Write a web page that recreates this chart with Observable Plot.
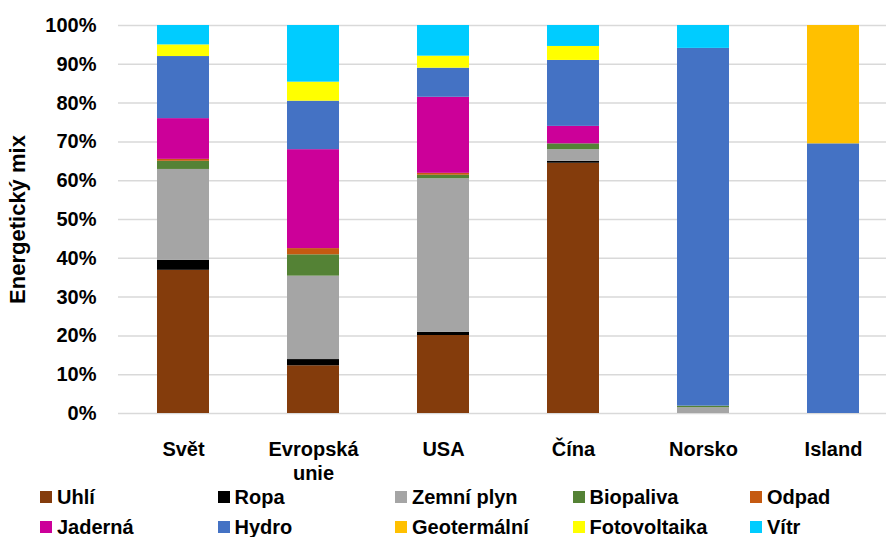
<!DOCTYPE html>
<html>
<head>
<meta charset="utf-8">
<script src="https://cdn.jsdelivr.net/npm/d3@7"></script>
<script src="https://cdn.jsdelivr.net/npm/@observablehq/plot@0.6"></script>
<style>
  body { margin: 0; background: #fff; font-family: "Liberation Sans", Arial, sans-serif; }
  #chart { position: relative; width: 886px; height: 537px; overflow: hidden; }
  #chart svg { display: block; }
  #legend { display: grid; grid-template-columns: repeat(5, 177.5px); padding-left: 40px; margin-top: -4px;
            font: bold 20px "Liberation Sans", Arial, sans-serif; color: #000; }
  .item { display: flex; align-items: center; height: 30px; white-space: nowrap; }
  .sw { width: 12px; height: 12px; margin-right: 5px; flex: none; }
</style>
</head>
<body>
<div id="chart"></div>
<script>
const categories = ["Svět", "Evropská unie", "USA", "Čína", "Norsko", "Island"];
const sources = ["Uhlí", "Ropa", "Zemní plyn", "Biopaliva", "Odpad", "Jaderná", "Hydro", "Geotermální", "Fotovoltaika", "Vítr"];
const colors = ["#843C0C", "#000000", "#A5A5A5", "#548235", "#C55A11", "#CC0099", "#4472C4", "#FFC000", "#FFFF00", "#00CCFF"];

const uhli        = [36.9, 12.3, 20.1, 64.5, 0,    0];
const ropa        = [2.6,  1.6,  0.8,  0.5,  0,    0];
const zemniPlyn   = [23.4, 21.5, 39.6, 3.0,  1.5,  0];
const biopaliva   = [2.1,  5.5,  0.9,  1.5,  0.4,  0];
const odpad       = [0.5,  1.6,  0.5,  0,    0,    0];
const jaderna     = [10.5, 25.5, 19.6, 4.5,  0,    0];
const hydro       = [16.0, 12.5, 7.5,  17.0, 92.2, 69.5];
const geotermalni = [0,    0,    0,    0,    0,    30.5];
const fotovoltaika= [3.0,  4.9,  3.1,  3.6,  0,    0];
const vitr        = [5.0,  14.6, 7.9,  5.4,  5.9,  0];
const yTicks = [0, 10, 20, 30, 40, 50, 60, 70, 80, 90, 100];

const series = [uhli, ropa, zemniPlyn, biopaliva, odpad, jaderna, hydro, geotermalni, fotovoltaika, vitr];
const data = [];
series.forEach((vals, i) => vals.forEach((v, j) => data.push({category: categories[j], source: sources[i], value: v})));

const font = '"Liberation Sans", Arial, sans-serif';
const plot = Plot.plot({
  width: 886,
  height: 486,
  marginTop: 25,
  marginBottom: 73,
  marginLeft: 118,
  marginRight: 0,
  style: {fontFamily: font, fontSize: "20px", fontWeight: "bold", color: "#000", background: "#fff", overflow: "hidden"},
  x: {domain: categories, range: [118, 898], paddingInner: 0.6, paddingOuter: 0.3},
  y: {domain: [0, 100]},
  color: {domain: sources, range: colors},
  marks: [
    Plot.ruleY(yTicks, {stroke: "#d9d9d9", strokeWidth: 1.5}),
    Plot.barY(data, Plot.stackY({x: "category", y: "value", z: "source", fill: "source", order: sources})),
    Plot.axisY(yTicks, {tickSize: 0, tickPadding: 22, tickFormat: d => d + "%", fontSize: 20, fontWeight: "bold", label: null}),
    Plot.axisY([0], {tickSize: 0, tickFormat: () => "", fontSize: 22, fontWeight: "bold",
      label: "Energetický mix", labelAnchor: "center", labelOffset: 109, labelArrow: "none"}),
    Plot.axisX({tickSize: 0, tickPadding: 25, fontSize: 20, fontWeight: "bold", lineHeight: 1.2,
      tickFormat: d => d.replace(" ", "\n"), label: null})
  ]
});
document.getElementById("chart").appendChild(plot);

const legend = document.createElement("div");
legend.id = "legend";
sources.forEach((s, i) => {
  const it = document.createElement("div");
  it.className = "item";
  const sw = document.createElement("span");
  sw.className = "sw";
  sw.style.background = colors[i];
  it.appendChild(sw);
  it.appendChild(document.createTextNode(s));
  legend.appendChild(it);
});
document.getElementById("chart").appendChild(legend);
</script>
</body>
</html>
